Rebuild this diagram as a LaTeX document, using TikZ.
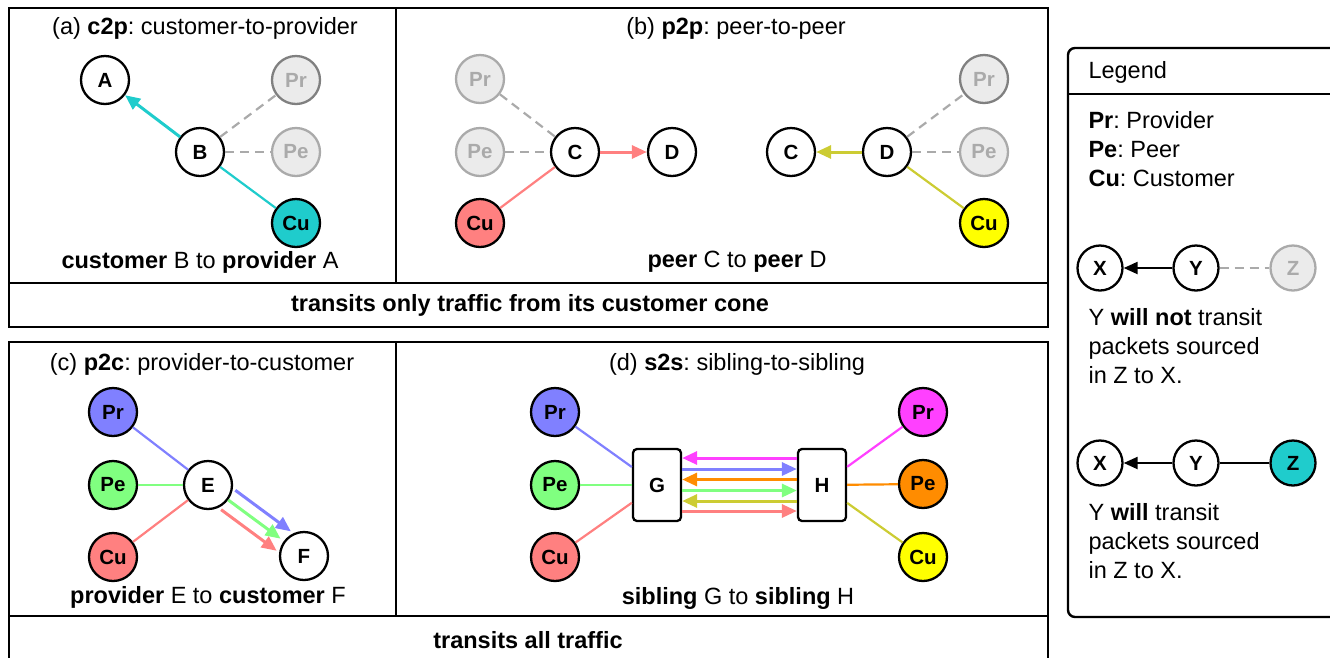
\documentclass[tikz,border=0pt]{standalone}
\usepackage{fontspec}
\setmainfont{Liberation Sans}
\usetikzlibrary{arrows.meta}
\definecolor{tealc}{HTML}{1FCCCC}
\definecolor{salmon}{HTML}{FF8080}
\definecolor{yel}{HTML}{FFFF00}
\definecolor{olive}{HTML}{CCCC33}
\definecolor{bluec}{HTML}{8080FF}
\definecolor{greenc}{HTML}{80FF80}
\definecolor{magc}{HTML}{FF40FF}
\definecolor{orangec}{HTML}{FF8C00}
\definecolor{ghostfill}{HTML}{EBEBEB}
\definecolor{ghostline}{HTML}{AAAAAA}
\definecolor{ghostdark}{HTML}{808080}
\frenchspacing

\begin{document}
\begin{tikzpicture}[x=1pt, y=-1pt,
		every node/.style={font=\fontsize{23.5}{29}\selectfont},
		as/.style={circle, draw, line width=2.3pt, fill=white, minimum size=48pt, inner sep=0pt, font=\fontsize{20.5}{20.5}\selectfont\bfseries},
		ghost/.style={as, fill=ghostfill, draw=ghostline, text=ghostline},
		sib/.style={draw, line width=2.3pt, fill=white, rounded corners=4pt, minimum width=48pt, minimum height=72pt, inner sep=0pt, font=\fontsize{20.5}{20.5}\selectfont\bfseries},
		link/.style={line width=2.2pt},
		quiet/.style={line width=2.2pt, ghostline, dash pattern=on 9pt off 6pt},
		flow/.style={line width=3pt, arrows={-Triangle[length=15pt, width=13pt]}},
		box/.style={line width=2.4pt}]
		\useasboundingbox (0,0) rectangle (1330,657);

		\draw[box] (9,8) rectangle (1048,327);
		\draw[box] (9,283) -- (1048,283);
		\draw[box] (396,8) -- (396,283);
		\draw[box] (9,342) rectangle (1048,662);
		\draw[box] (9,616) -- (1048,616);
		\draw[box] (396,342) -- (396,616);
		\draw[box, rounded corners=7pt] (1068,48) rectangle (1345,617);
		\draw[box] (1068,94) -- (1345,94);

		% (a)
		\node (ta) at (205,28) {(a) \textbf{c2p}: customer-to-provider};
		\node[as] (A) at (105,80) {A};
		\node[as] (B) at (200,152) {B};
		\node[ghost, draw=ghostdark] (aPr) at (296,80) {Pr};
		\node[ghost] (aPe) at (296,152) {Pe};
		\node[as, fill=tealc] (aCu) at (296,223) {Cu};
		\draw[quiet] (B) -- (aPr);
		\draw[quiet] (B) -- (aPe);
		\draw[link, tealc] (aCu) -- (B);
		\draw[flow, tealc] (B) -- (A);
		\node (ca) at (200,262) {\textbf{customer} B to \textbf{provider} A};

		% (b)
		\node (tb) at (736,28) {(b) \textbf{p2p}: peer-to-peer};
		\node[ghost] (bPr) at (480,79) {Pr};
		\node[ghost] (bPe) at (480,152) {Pe};
		\node[as, fill=salmon] (bCu) at (480,223) {Cu};
		\node[as] (bC) at (575,152) {C};
		\node[as] (bD) at (672,152) {D};
		\draw[quiet] (bPr) -- (bC);
		\draw[quiet] (bPe) -- (bC);
		\draw[link, salmon] (bCu) -- (bC);
		\draw[flow, salmon] (bC) -- (bD);
		\node[as] (bC2) at (791,152) {C};
		\node[as] (bD2) at (887,152) {D};
		\node[ghost, draw=ghostdark] (bPr2) at (984,79) {Pr};
		\node[ghost] (bPe2) at (984,152) {Pe};
		\node[as, fill=yel] (bCu2) at (984,223) {Cu};
		\draw[quiet] (bD2) -- (bPr2);
		\draw[quiet] (bD2) -- (bPe2);
		\draw[link, olive] (bD2) -- (bCu2);
		\draw[flow, olive] (bD2) -- (bC2);
		\node (cb) at (737,262) {\textbf{peer} C to \textbf{peer} D};
		\node (tr1) at (530,305) {\textbf{transits only traffic from its customer cone}};

		% (c)
		\node (tc) at (202,364) {(c) \textbf{p2c}: provider-to-customer};
		\node[as, fill=bluec] (cPr) at (113,412) {Pr};
		\node[as, fill=greenc] (cPe) at (113,485) {Pe};
		\node[as, fill=salmon] (cCu) at (113,557) {Cu};
		\node[as] (E) at (208,485) {E};
		\node[as] (F) at (304,556) {F};
		\draw[link, bluec] (cPr) -- (E);
		\draw[link, greenc] (cPe) -- (E);
		\draw[link, salmon] (cCu) -- (E);
		\draw[flow, bluec, transform canvas={shift={(7.1,-9.7)}}] (E) -- (F);
		\draw[flow, greenc, shorten >=4pt] (E) -- (F);
		\draw[flow, salmon, transform canvas={shift={(-7.1,9.7)}}] (E) -- (F);
		\node (cc) at (208,597) {\textbf{provider} E to \textbf{customer} F};

		% (d)
		\node (td) at (737,364) {(d) \textbf{s2s}: sibling-to-sibling};
		\node[as, fill=bluec] (dPr) at (555,412) {Pr};
		\node[as, fill=greenc] (dPe) at (555,485) {Pe};
		\node[as, fill=salmon] (dCu) at (555,557) {Cu};
		\node[sib] (G) at (657,485) {G};
		\node[sib] (H) at (822,485) {H};
		\node[as, fill=magc] (dPr2) at (923,412) {Pr};
		\node[as, fill=orangec] (dPe2) at (923,484) {Pe};
		\node[as, fill=yel] (dCu2) at (923,557) {Cu};
		\draw[link, bluec] (dPr) -- (G);
		\draw[link, greenc] (dPe) -- (G);
		\draw[link, salmon] (dCu) -- (G);
		\draw[link, magc] (H) -- (dPr2);
		\draw[link, orangec] (H) -- (dPe2);
		\draw[link, olive] (H) -- (dCu2);
		\draw[flow, magc] ([yshift=27pt]H.west) -- ([yshift=27pt]G.east);
		\draw[flow, bluec] ([yshift=16pt]G.east) -- ([yshift=16pt]H.west);
		\draw[flow, orangec] ([yshift=5.5pt]H.west) -- ([yshift=5.5pt]G.east);
		\draw[flow, greenc] ([yshift=-5.5pt]G.east) -- ([yshift=-5.5pt]H.west);
		\draw[flow, olive] ([yshift=-16pt]H.west) -- ([yshift=-16pt]G.east);
		\draw[flow, salmon] ([yshift=-26pt]G.east) -- ([yshift=-26pt]H.west);
		\node (cd) at (738,598) {\textbf{sibling} G to \textbf{sibling} H};
		\node (tr2) at (528,640) {\textbf{transits all traffic}};

		% legend
		\node[anchor=west] (lg) at (1085,72) {Legend};
		\node[anchor=west, align=left] (keys) at (1085,149) {\textbf{Pr}: Provider\\\textbf{Pe}: Peer\\\textbf{Cu}: Customer};
		\node[as, minimum size=45pt] (X) at (1100,268) {X};
		\node[as, minimum size=45pt] (Y) at (1196,268) {Y};
		\node[ghost, minimum size=45pt] (Z) at (1293,268) {Z};
		\draw[flow, line width=2.2pt, arrows={-Triangle[length=14pt, width=12pt]}] (Y) -- (X);
		\draw[quiet] (Y) -- (Z);
		\node[anchor=west, align=left] (nt) at (1085,346) {Y \textbf{will not} transit\\packets sourced\\in Z to X.};
		\node[as, minimum size=45pt] (X2) at (1100,463) {X};
		\node[as, minimum size=45pt] (Y2) at (1196,463) {Y};
		\node[as, minimum size=45pt, fill=tealc] (Z2) at (1293,463) {Z};
		\draw[flow, line width=2.2pt, arrows={-Triangle[length=14pt, width=12pt]}] (Y2) -- (X2);
		\draw[link] (Y2) -- (Z2);
		\node[anchor=west, align=left] (wt) at (1085,541) {Y \textbf{will} transit\\packets sourced\\in Z to X.};
	\end{tikzpicture}
\end{document}
